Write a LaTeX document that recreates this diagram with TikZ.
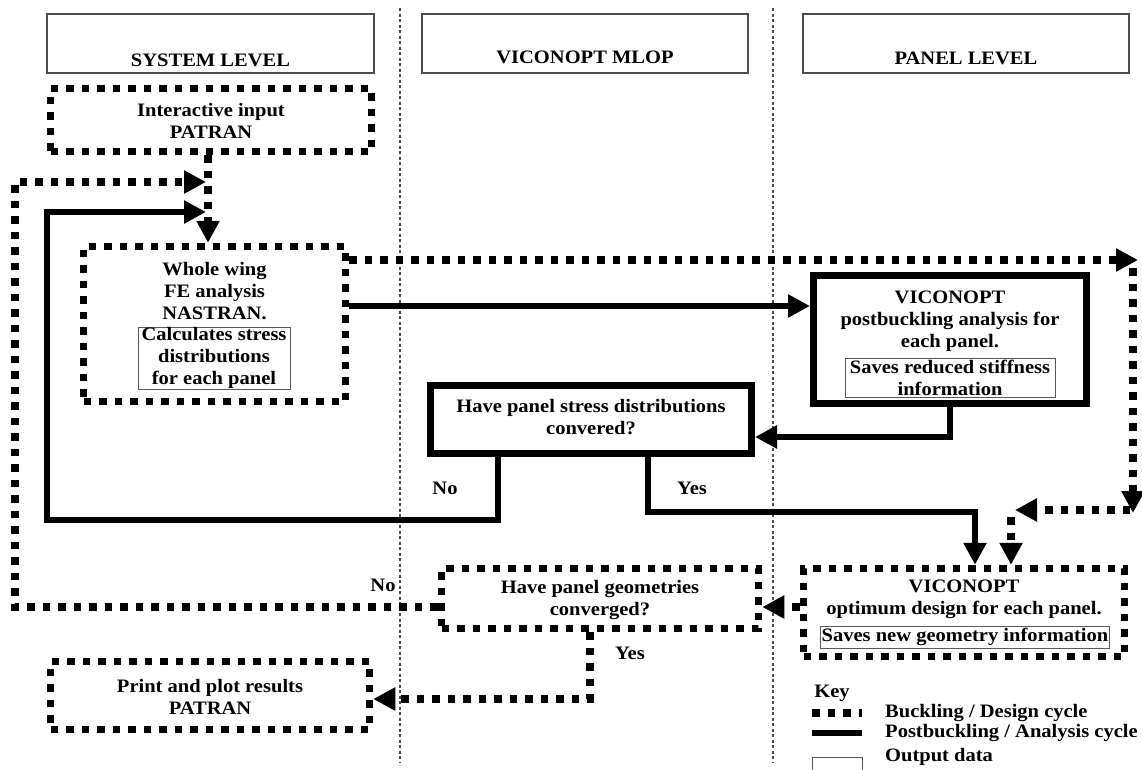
\documentclass[tikz,border=0pt]{standalone}
\usepackage{fontspec}
\setmainfont{Liberation Serif}[FakeStretch=1.08]
\usetikzlibrary{arrows.meta}
\begin{document}
\begin{tikzpicture}[x=1pt,y=-1pt,
  dotbox/.style={draw, line width=7.5pt, dash pattern=on 7.5pt off 8pt},
  thickbox/.style={draw, line width=7pt},
  dotline/.style={line width=7.5pt, dash pattern=on 7.5pt off 8pt},
  solidline/.style={line width=6pt},
  hdr/.style={draw=black!70, line width=1.3pt},
  outbox/.style={draw=black!65, line width=1pt},
  sep/.style={draw=black!70, line width=1.2pt, dash pattern=on 3pt off 2.5pt},
  txt/.style={font=\fontsize{19}{22}\selectfont\bfseries, align=center, inner sep=0pt},
  tip/.style={-{Triangle[length=22pt,width=22pt]}}]
\useasboundingbox (0,0) rectangle (1142,769);
% separators
\coordinate (v1t) at (400,8); \coordinate (v1b) at (400,762);
\coordinate (v2t) at (773,8); \coordinate (v2b) at (773,762);
\draw[sep] (v1t) -- (v1b);
\draw[sep] (v2t) -- (v2b);
% headers
\node[hdr, minimum width=327pt, minimum height=59pt] (sys) at (210.5,43.5) {};
\node[hdr, minimum width=326pt, minimum height=59pt] (mlop) at (585,43.5) {};
\node[hdr, minimum width=326pt, minimum height=59pt] (pan) at (966,43.5) {};
\node[txt] (syst) at (210.5,60) {SYSTEM LEVEL};
\node[txt] (mlopt) at (585,57) {VICONOPT MLOP};
\node[txt] (pant) at (966,58) {PANEL LEVEL};
% boxes
\node[dotbox, minimum width=321pt, minimum height=63pt] (inter) at (211,120) {};
\node[txt] (intert) at (211,121) {Interactive input\\PATRAN};
\node[dotbox, minimum width=262pt, minimum height=155pt] (whole) at (214.5,324) {};
\node[txt] (wholet) at (214.5,291) {Whole wing\\FE analysis\\NASTRAN.};
\node[txt, outbox, minimum width=152pt, minimum height=62pt] (wholeo) at (214,358) {Calculates stress\\distributions\\for each panel};
\node[thickbox, minimum width=273pt, minimum height=128pt] (post) at (950,339.5) {};
\node[txt] (postt) at (950,321.5) {VICONOPT\\postbuckling analysis for\\each panel.};
\node[txt, outbox, minimum width=210pt, minimum height=39pt] (posto) at (950,377.5) {Saves reduced stiffness\\information};
\node[thickbox, minimum width=321pt, minimum height=68pt] (stress) at (591,419.5) {};
\node[txt] (stresst) at (591,417.5) {Have panel stress distributions\\convered?};
\node[dotbox, minimum width=317pt, minimum height=60pt] (geom) at (600,598.5) {};
\node[txt] (geomt) at (600,600) {Have panel geometries\\converged?};
\node[dotbox, minimum width=321pt, minimum height=88pt] (opt) at (964,612.5) {};
\node[txt] (optt) at (964,599) {VICONOPT\\optimum design for each panel.};
\node[txt, outbox, inner xsep=1pt, minimum width=288pt, minimum height=22pt] (opto) at (965,637) {Saves new geometry information};
\node[dotbox, minimum width=319pt, minimum height=68pt] (print) at (210,695.5) {};
\node[txt] (printt) at (210,697) {Print and plot results\\PATRAN};
% coordinates
\coordinate (cx1) at (208,0);
\coordinate (lb) at (15,607);
\coordinate (lt) at (15,182);
\coordinate (a1) at (206,182);
\coordinate (s1) at (498,520);
\coordinate (s2) at (47,520);
\coordinate (s3) at (47,212);
\coordinate (a2) at (206,212);
\coordinate (r0) at (349,260);
\coordinate (r1) at (1138,260);
\coordinate (r2) at (1133,268);
\coordinate (r3) at (1133,513);
\coordinate (r4) at (1130,510);
\coordinate (r5) at (1015,510);
\coordinate (r6) at (1011,517);
\coordinate (p0) at (349,306);
\coordinate (q1) at (950,437);
\coordinate (y1) at (648,512);
\coordinate (y2) at (975,512);
\coordinate (g0) at (0,607);
\coordinate (g1) at (590,699);
% connectors
\draw[dotline, tip] (inter.south -| cx1) -- (whole.north -| cx1);
\draw[dotline, tip] (geom.west |- g0) -- (lb) -- (lt) -- (a1);
\draw[solidline, tip] (stress.south -| s1) -- (s1) -- (s2) -- (s3) -- (a2);
\draw[dotline, tip] (r0) -- (r1);
\draw[dotline, tip] (r2) -- (r3);
\draw[dotline, tip] (r4) -- (r5);
\draw[dotline, tip] (r6) -- (opt.north -| r6);
\draw[solidline, tip] (p0) -- (post.west |- p0);
\draw[solidline, tip] (post.south -| q1) -- (q1) -- (stress.east |- q1);
\draw[solidline, tip] (stress.south -| y1) -- (y1) -- (y2) -- (opt.north -| y2);
\draw[dotline, tip] (opt.west |- g0) -- (geom.east |- g0);
\draw[dotline, tip] (geom.south -| g1) -- (g1) -- (print.east |- g1);
% labels
\node[txt] (no1) at (445,488) {No};
\node[txt] (yes1) at (692,488) {Yes};
\node[txt] (no2) at (383,585) {No};
\node[txt] (yes2) at (630,653) {Yes};
% key
\node[txt] (key) at (832,693) {Key};
\coordinate (k1) at (812,713); \coordinate (k2) at (862,713);
\coordinate (k3) at (812,733); \coordinate (k4) at (862,733);
\draw[dotline] (k1) -- (k2);
\draw[solidline] (k3) -- (k4);
\draw[outbox] (812,757) rectangle (862,780);
\node[txt, anchor=west] (key1) at (885,713) {Buckling / Design cycle};
\node[txt, anchor=west] (key2) at (885,733) {Postbuckling / Analysis cycle};
\node[txt, anchor=west] (key3) at (885,757) {Output data};
\end{tikzpicture}
\end{document}
